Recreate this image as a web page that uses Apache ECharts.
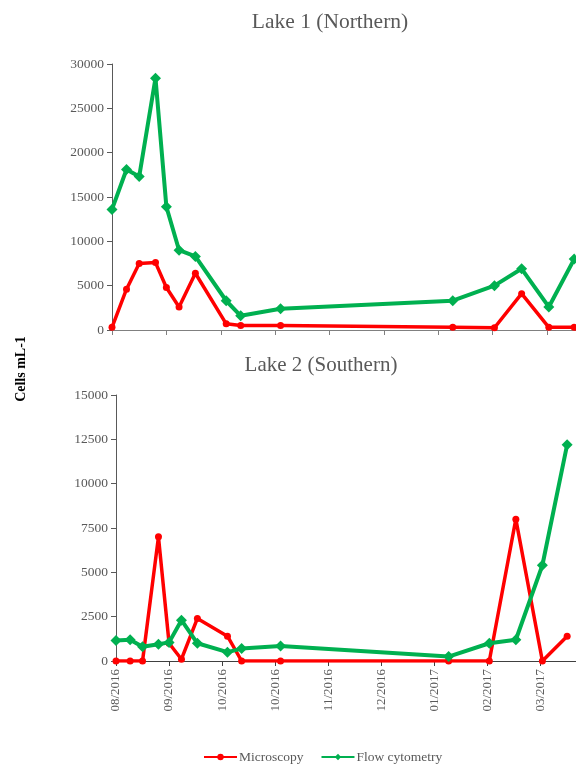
<!DOCTYPE html>
<html>
<head>
<meta charset="utf-8">
<script src="https://cdn.jsdelivr.net/npm/echarts@6/dist/echarts.min.js"></script>
<style>
html,body{margin:0;padding:0;background:#fff;}
#chart{width:576px;height:766px;}
</style>
</head>
<body>
<div id="chart"></div>
<script>
// Sampling dates (shared by both lakes)
var sampleDates = ['2016-08-02','2016-08-10','2016-08-17','2016-08-26','2016-09-01','2016-09-08','2016-09-17','2016-10-04','2016-10-12','2016-11-03','2017-02-06','2017-03-01','2017-03-16','2017-03-31','2017-04-14'];
var axisStartDate = '2016-08-02';
var tickLabels = ['08/2016','09/2016','10/2016','10/2016','11/2016','12/2016','01/2017','02/2017','03/2017'];

var lake1Microscopy = [300,4600,7500,7600,4800,2600,6400,700,500,500,300,250,4100,300,300];
var lake1Flow = [13600,18100,17300,28400,13900,9000,8300,3300,1600,2400,3300,5000,6900,2600,8000];

var lake2Microscopy = [0,0,0,7000,1000,100,2400,1400,0,0,0,0,8000,0,1400];
var lake2Flow = [1150,1200,800,950,1050,2300,1000,500,700,850,250,1000,1200,5400,12200];

var DAY = 86400000;
function dayIndex(s){ return Math.round((Date.parse(s) - Date.parse(axisStartDate)) / DAY); }
function pairs(vals){ return vals.map(function(v,i){ return [dayIndex(sampleDates[i]), v]; }); }

var serif = '"Liberation Serif","DejaVu Serif",serif';
var gray = '#595959';
var RED = '#FF0000', GREEN = '#00B050';

function xAxis(gridIndex, max, showLabels, lineColor){
  return {
    type:'value', gridIndex:gridIndex, min:0, max:max, interval:30,
    axisLine:{show:true, lineStyle:{color:lineColor, width:1}},
    axisTick:{show:true, length:5, lineStyle:{color:lineColor}},
    splitLine:{show:false},
    axisLabel:{
      show:showLabels, rotate:90, color:gray, fontFamily:serif, fontSize:13, margin:8,
      showMaxLabel:false,
      formatter:function(v){ var k = Math.round(v/30); return tickLabels[k] || ''; }
    }
  };
}
function yAxis(gridIndex, max, interval){
  return {
    type:'value', gridIndex:gridIndex, min:0, max:max, interval:interval,
    axisLine:{show:true, lineStyle:{color:'#595959', width:1}},
    axisTick:{show:true, length:5, lineStyle:{color:'#595959'}},
    splitLine:{show:false},
    axisLabel:{color:gray, fontFamily:serif, fontSize:13.5, margin:8,
      formatter:function(v){ return String(v); }}
  };
}
function series(name, gi, vals, color, symbol, size, lw){
  return {
    name:name, type:'line', xAxisIndex:gi, yAxisIndex:gi, data:pairs(vals),
    symbol:symbol, symbolSize:size, showAllSymbol:true,
    lineStyle:{color:color, width:lw}, itemStyle:{color:color},
    animation:false
  };
}

var chart = echarts.init(document.getElementById('chart'), null, {renderer:'canvas'});
chart.setOption({
  backgroundColor:'#fff',
  animation:false,
  title:[
    {text:'Lake 1 (Northern)', left:325, top:6, textAlign:'center',
     textStyle:{fontFamily:serif, fontSize:21.5, fontWeight:'normal', color:gray}},
    {text:'Lake 2 (Southern)', left:316, top:350, textAlign:'center',
     textStyle:{fontFamily:serif, fontSize:21, fontWeight:'normal', color:gray}}
  ],
  graphic:[{
    type:'text', x:14, y:369, rotation:Math.PI/2,
    style:{text:'Cells mL-1', fontFamily:serif, fontSize:14, fontWeight:'bold', fill:'#000',
           textAlign:'center', textVerticalAlign:'top'}
  }],
  legend:{
    bottom:-3, left:198, itemGap:17, itemWidth:33, itemHeight:8,
    textStyle:{fontFamily:serif, fontSize:13.5, color:gray, padding:[0,0,0,-3]},
    data:[{name:'Microscopy'},{name:'Flow cytometry'}]
  },
  grid:[
    {left:112, top:64, width:464, height:266},
    {left:116, top:395, width:460, height:266}
  ],
  xAxis:[xAxis(0,256,false,'#808080'), xAxis(1,260,true,'#404040')],
  yAxis:[yAxis(0,30000,5000), yAxis(1,15000,2500)],
  series:[
    series('Microscopy',0,lake1Microscopy,RED,'circle',7,3.5),
    series('Flow cytometry',0,lake1Flow,GREEN,'diamond',11,4),
    series('Microscopy',1,lake2Microscopy,RED,'circle',7,3.5),
    series('Flow cytometry',1,lake2Flow,GREEN,'diamond',11,4)
  ]
});
</script>
</body>
</html>
